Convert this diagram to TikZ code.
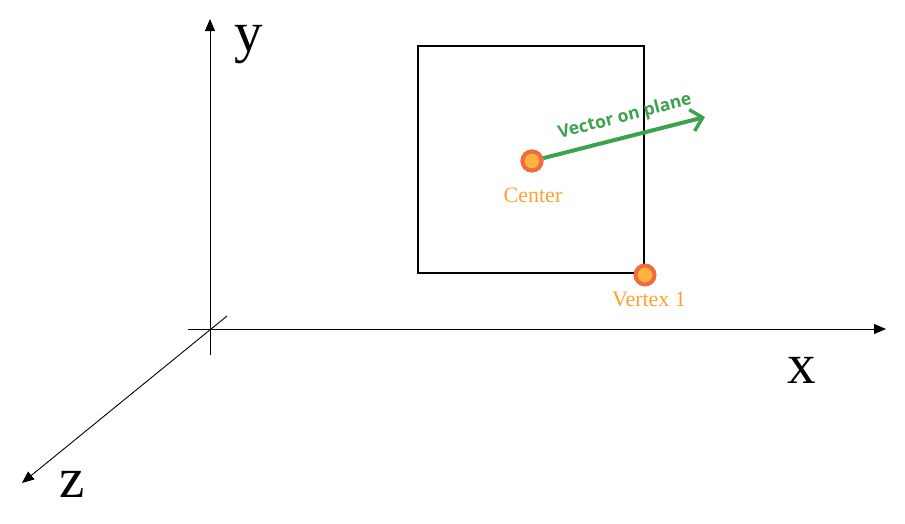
\documentclass[tikz,border=0pt]{standalone}
\usepackage{fontspec}
\setmainfont{Liberation Serif}
\newfontfamily\vecfont{Open Sans}
\usetikzlibrary{arrows.meta}
\definecolor{ringc}{HTML}{F26B3A}
\definecolor{fillc}{HTML}{FFB142}
\definecolor{labc}{HTML}{FFA033}
\definecolor{vecc}{HTML}{3BA24E}
\tikzset{
  axis/.style={line width=0.9pt,-{Triangle[length=12pt,width=10pt]}},
  axlab/.style={font=\fontsize{57}{60}\selectfont,inner sep=0pt,anchor=base},
  pt/.style={circle,draw=ringc,fill=fillc,line width=4pt,minimum size=19pt,inner sep=0pt},
  ptlab/.style={text=labc,font=\fontsize{22}{24}\selectfont,inner sep=0pt},
}
\begin{document}
\begin{tikzpicture}[x=1pt,y=-1pt]
\useasboundingbox (0,0) rectangle (905,523);
% axes
\coordinate (xs) at (188,329);
\coordinate (xe) at (886,329);
\coordinate (ys) at (210,355);
\coordinate (ye) at (210,19);
\coordinate (zs) at (227,316);
\coordinate (ze) at (22,483);
\draw[axis] (xs) -- (xe);
\draw[axis] (ys) -- (ye);
\draw[axis] (zs) -- (ze);
\node[axlab] (xl) at (802,383) {x};
\node[axlab] (yl) at (249,51) {y};
\node[axlab] (zl) at (72,497) {z};
% square
\node[draw,line width=1.6pt,minimum width=226pt,minimum height=227pt,inner sep=0pt] (sq) at (531,159.5) {};
% vector
\node[pt] (c) at (532,161) {};
\coordinate (vt) at (705,117);
\draw[vecc,line width=4pt,-{Straight Barb[length=11pt,width=22pt,line width=3.5pt]}] (c) -- (vt);
\node[text=vecc,font=\vecfont\bfseries\fontsize{17.5}{19}\selectfont,rotate=14.4,inner sep=0pt] (vl) at (625,117) {Vector on plane};
\node[pt] (c) at (532,161) {};
\node[ptlab] (cl) at (533,195) {Center};
\node[pt] (v) at (645,275) {};
\node[ptlab] (vl1) at (649,299) {Vertex 1};
\end{tikzpicture}
\end{document}
